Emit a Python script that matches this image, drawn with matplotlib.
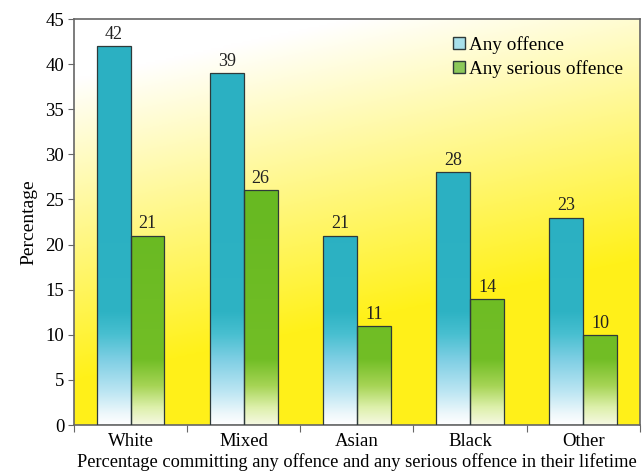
import numpy as np
import matplotlib
matplotlib.use('Agg')
import matplotlib.pyplot as plt
from matplotlib.colors import LinearSegmentedColormap
from matplotlib.patches import Patch

groups = ['White', 'Mixed', 'Asian', 'Black', 'Other']
any_offence = [42, 39, 21, 28, 23]
serious_offence = [21, 26, 11, 14, 10]
series_names = ['Any offence', 'Any serious offence']

plt.rcParams['font.family'] = ['Liberation Serif', 'DejaVu Serif']

fig = plt.figure(figsize=(6.43, 4.76), dpi=100)
ax = fig.add_axes([0.115, 0.107, 0.88, 0.853])

ymax = 45
ax.set_xlim(0, len(groups))
ax.set_ylim(0, ymax)

# background: white top-left fading to yellow at the bottom
xx, yy = np.meshgrid(np.linspace(0, 1, 200), np.linspace(0, 1, 200))
s = np.clip(1.35 * (1 - yy) + 0.4 * xx - 0.2, 0, 1)
yellow = np.array([1.0, 0.945, 0.1])
bg = np.ones((200, 200, 3)) * (1 - s[..., None]) + yellow * s[..., None]
ax.imshow(bg, extent=[0, len(groups), ymax, 0], aspect='auto', zorder=0)
ax.set_ylim(0, ymax)

cyan_cmap = LinearSegmentedColormap.from_list('cy', [
    (0.0, '#ffffff'), (0.05, '#eef8fb'), (0.15, '#bde6f3'), (0.3, '#7fcfe4'),
    (0.42, '#48bfd0'), (0.52, '#2eb3c4'), (1.0, '#2bb0c2')])
green_cmap = LinearSegmentedColormap.from_list('gr', [
    (0.0, '#f6f9e2'), (0.08, '#ddf0ab'), (0.18, '#a6d455'),
    (0.3, '#72be26'), (1.0, '#68b922')])

x = np.arange(len(groups)) + 0.5
w = 0.3
b1 = ax.bar(x - w / 2, any_offence, w, facecolor='none', edgecolor='#2e3a3a', linewidth=0.9, zorder=3)
b2 = ax.bar(x + w / 2, serious_offence, w, facecolor='none', edgecolor='#2e3a3a', linewidth=0.9, zorder=3)

grad = np.linspace(0, 1, 256).reshape(-1, 1)
for bars, cmap in [(b1, cyan_cmap), (b2, green_cmap)]:
    for rect in bars:
        x0 = rect.get_x()
        im = ax.imshow(grad, cmap=cmap, extent=[x0, x0 + rect.get_width(), 0, 24],
                       origin='lower', aspect='auto', zorder=2)
        im.set_clip_path(rect)
        top = ax.imshow(np.ones((2, 1)), cmap=LinearSegmentedColormap.from_list('c', [cmap(1.0), cmap(1.0)]),
                        extent=[x0, x0 + rect.get_width(), 24, ymax], aspect='auto', zorder=2)
        top.set_clip_path(rect)
ax.set_xlim(0, len(groups))
ax.set_ylim(0, ymax)

for bars, vals in [(b1, any_offence), (b2, serious_offence)]:
    for rect, v in zip(bars, vals):
        ax.text(rect.get_x() + rect.get_width() / 2, v + 0.35, str(v),
                ha='center', va='bottom', fontsize=13, color='#222222')

ax.set_xticks(np.arange(len(groups) + 1))
ax.set_xticklabels([])
ax.set_xticks(x, minor=True)
ax.set_xticklabels(groups, minor=True, fontsize=13.5)
ax.tick_params(axis='x', which='minor', length=0, pad=6)
ax.tick_params(axis='x', which='major', length=5, color='#666666', direction='out')
ax.set_yticks(np.arange(0, 46, 5))
ax.tick_params(axis='y', length=4, color='#666666', labelsize=13.5, pad=3)

for sp in ax.spines.values():
    sp.set_color('#666666')
    sp.set_linewidth(1.2)

ax.set_ylabel('Percentage', fontsize=14, labelpad=6)
ax.set_xlabel('Percentage committing any offence and any serious offence in their lifetime',
              fontsize=13.2, labelpad=2)

handles = [Patch(facecolor='#a8e0ea', edgecolor='#2e3a3a'),
           Patch(facecolor='#8cc85a', edgecolor='#2e3a3a')]
ax.legend(handles, series_names, loc='upper left', bbox_to_anchor=(0.64, 1.0), frameon=False,
          fontsize=13.8, handlelength=0.6, handleheight=0.6, handletextpad=0.2, labelspacing=0.3)

plt.savefig('out.png', dpi=100)
